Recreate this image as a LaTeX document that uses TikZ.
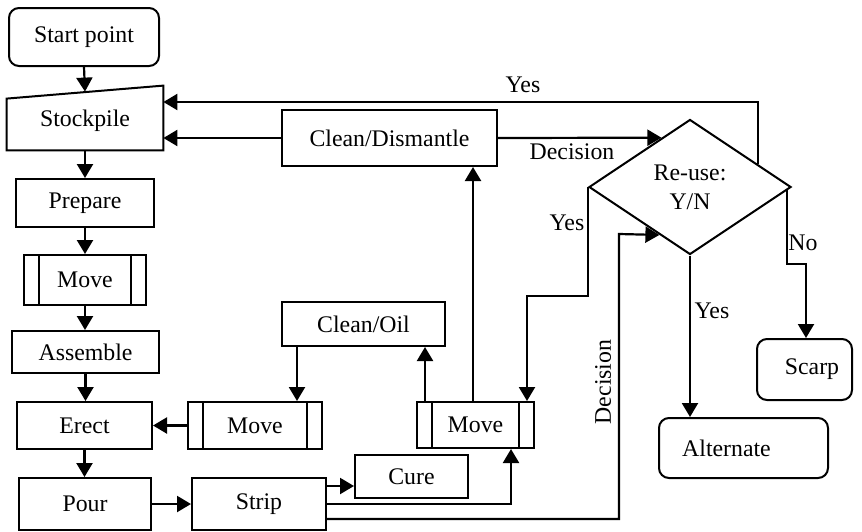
\documentclass[tikz,border=0pt]{standalone}
\usepackage{fontspec}
\setmainfont{Liberation Serif}
\usetikzlibrary{arrows.meta,shapes.geometric,calc}
\begin{document}
\begin{tikzpicture}[x=0.5pt,y=-0.5pt,
  font=\fontsize{11.9}{14.5}\selectfont,
  box/.style={draw, line width=1pt, inner sep=0pt},
  rbox/.style={box, rounded corners=5pt},
  sub/.style={box, path picture={
     \draw[line width=1pt] ([xshift=7.5pt]path picture bounding box.north west) -- ([xshift=7.5pt]path picture bounding box.south west)
                             ([xshift=-7.5pt]path picture bounding box.north east) -- ([xshift=-7.5pt]path picture bounding box.south east);}},
  arr/.style={line width=1.1pt, -{Triangle[length=7pt,width=8pt]}},
  ln/.style={line width=1pt},
  lab/.style={inner sep=0pt}]
\useasboundingbox (0,0) rectangle (862,531);

% nodes
\node[rbox, minimum width=75pt, minimum height=29pt] (start) at (84,37) {Start point};
\node[inner sep=0pt, minimum width=78pt, minimum height=29pt] (stock) at (85,121) {Stockpile};
\draw[ln] (stock.south west) -- (stock.south east) -- ([yshift=3pt]stock.north east) -- ([yshift=-3.5pt]stock.north west) -- cycle;
\node[box, minimum width=69pt, minimum height=24pt] (prep) at (85,203) {Prepare};
\node[sub, minimum width=61pt, minimum height=25pt] (move1) at (85,280) {Move};
\node[box, minimum width=73.5pt, minimum height=21pt] (asm) at (85.5,352) {Assemble};
\node[box, minimum width=67.5pt, minimum height=23.5pt] (erect) at (84.5,425.5) {Erect};
\node[box, minimum width=66pt, minimum height=26pt] (pour) at (85,504) {Pour};
\node[box, minimum width=67pt, minimum height=26pt] (strip) at (259,504) {Strip};
\node[sub, minimum width=67pt, minimum height=23.5pt] (move2) at (255,425.5) {Move};
\node[box, minimum width=81.5pt, minimum height=22pt] (cleanoil) at (363.5,324) {Clean/Oil};
\node[box, minimum width=56.5pt, minimum height=21.5pt] (cure) at (411.5,476.5) {Cure};
\node[sub, minimum width=58.5pt, minimum height=23pt] (move3) at (475.5,425) {Move};
\node[box, minimum width=107.5pt, minimum height=28pt] (cleandis) at (389.5,138) {Clean/Dismantle};
\node[draw, line width=1pt, shape=diamond, inner sep=0pt, minimum width=101pt, minimum height=67.5pt, align=center] (dec) at (690,187) {Re-use:\\Y/N};
\node[rbox, minimum width=84.5pt, minimum height=30pt] (alt) at (743.5,448) {Alternate\hspace*{17pt}};
\node[rbox, minimum width=47.5pt, minimum height=30.5pt] (scarp) at (804.5,369.5) {\hspace*{7.5pt}Scarp};

% points on the diamond edges
\coordinate (dUL) at ($(dec.north)!0.28!(dec.west)$);
\coordinate (dLL) at ($(dec.west)!0.70!(dec.south)$);
\coordinate (dUR) at ($(dec.north)!0.663!(dec.east)$);
\coordinate (dLR) at ($(dec.east)!0.05!(dec.south)$);

% left column
\draw[arr] (start.south) -- (stock.north);
\draw[arr] (stock.south) -- (prep.north);
\draw[arr] (prep.south) -- (move1.north);
\draw[arr] (move1.south) -- (asm.north -| move1.south);
\draw[arr] (asm.south) -- (erect.north -| asm.south);
\draw[arr] (erect.south) -- (pour.north -| erect.south);
\draw[arr] (pour.east) -- (strip.west);
\draw[arr] (move2.west) -- (erect.east);

% middle
\draw[arr] (cleanoil.south -| 297,0) -- (move2.north -| 297,0);
\draw[arr] (move3.north -| 425,0) -- (cleanoil.south -| 425,0);
\draw[arr] (move3.north -| 473,0) -- (cleandis.south -| 473,0);
\draw[arr] (strip.east |- 0,486) -- (cure.west |- 0,486);
\draw[arr] (strip.east) -| (move3.south -| 511,0);
\draw[arr] (strip.east |- 0,519) -| (619,234) -- (dLL);
\node[lab, rotate=90] (decl1) at (603,382) {Decision};

% top
\draw[arr] (cleandis.east) -- (dUL);
\node[lab] (decl2) at (572,152) {Decision};
\draw[arr] (cleandis.west) -- (stock.east |- cleandis.west);
\draw[arr] (dUR) |- (stock.east |- 0,102);
\node[lab] (yes1) at (523,85) {Yes};

% right
\draw[arr] (dec.west) |- (527,296) -- (move3.north -| 527,0);
\node[lab] (yes2) at (567,223) {Yes};
\draw[arr] (dec.south) -- (dec.south |- alt.north);
\node[lab] (yes3) at (712,311) {Yes};
\draw[arr] (dLR) |- (806,264) -- (scarp.north -| 806,0);
\node[lab] (no) at (803,243) {No};
\end{tikzpicture}
\end{document}
